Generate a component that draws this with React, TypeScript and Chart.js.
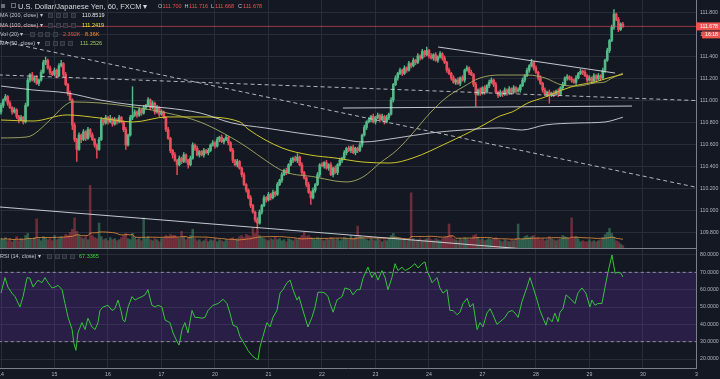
import React, { useEffect, useRef } from "react";
import { Chart, registerables } from "chart.js";

Chart.register(...registerables);

// ---------------- data ----------------
const dayTicks = [0, 24, 48, 72, 96, 120, 144, 168, 192, 216, 240, 264, 288, 312];
const dayLabels = ["14", "15", "16", "17", "20", "21", "22", "23", "24", "27", "28", "29", "30", "3"];
const priceTicks = [109.8, 110.0, 110.2, 110.4, 110.6, 110.8, 111.0, 111.2, 111.4, 111.6, 111.8];
const rsiTicks = [20, 30, 40, 50, 60, 70, 80];
const rsiBands = [70, 30];

const firstOpen = 110.9;
const closes = [
  110.96, 111.01, 111.04, 110.98, 110.94, 110.90, 110.92, 110.86, 110.83, 110.85,
  110.81, 110.96, 111.19, 111.24, 111.19, 111.21, 111.16, 111.19, 111.26, 111.35,
  111.37, 111.30, 111.26, 111.24, 111.28, 111.23, 111.32, 111.34, 111.24, 111.15,
  111.07, 111.01, 110.78, 110.65, 110.56, 110.69, 110.65, 110.72, 110.66, 110.74,
  110.69, 110.65, 110.60, 110.56, 110.65, 110.83, 110.80, 110.85, 110.81, 110.84,
  110.79, 110.83, 110.81, 110.85, 110.81, 110.74, 110.60, 110.69, 110.85, 110.87,
  110.90, 110.87, 110.92, 110.89, 110.94, 110.96, 111.01, 110.94, 110.98, 110.90,
  110.94, 110.88, 110.90, 110.85, 110.74, 110.66, 110.55, 110.51, 110.46, 110.42,
  110.48, 110.45, 110.51, 110.46, 110.42, 110.48, 110.60, 110.57, 110.51, 110.54,
  110.51, 110.55, 110.53, 110.55, 110.60, 110.62, 110.59, 110.65, 110.67, 110.63,
  110.65, 110.67, 110.62, 110.55, 110.46, 110.42, 110.45, 110.39, 110.33, 110.24,
  110.19, 110.12, 110.05, 109.99, 109.92, 109.89, 109.99, 110.05, 110.12, 110.10,
  110.15, 110.12, 110.17, 110.15, 110.24, 110.28, 110.33, 110.37, 110.35, 110.42,
  110.46, 110.48, 110.46, 110.49, 110.42, 110.35, 110.30, 110.24, 110.17, 110.12,
  110.19, 110.24, 110.33, 110.42, 110.41, 110.44, 110.39, 110.42, 110.33, 110.39,
  110.35, 110.42, 110.46, 110.48, 110.53, 110.57, 110.55, 110.58, 110.53, 110.57,
  110.55, 110.60, 110.69, 110.76, 110.81, 110.83, 110.86, 110.81, 110.85, 110.87,
  110.83, 110.86, 110.81, 110.85, 110.88, 111.01, 111.15, 111.21, 111.25, 111.28,
  111.25, 111.30, 111.28, 111.34, 111.32, 111.37, 111.35, 111.41, 111.39, 111.45,
  111.42, 111.46, 111.41, 111.39, 111.42, 111.37, 111.40, 111.43, 111.39, 111.35,
  111.28, 111.25, 111.21, 111.17, 111.19, 111.16, 111.21, 111.19, 111.28, 111.30,
  111.26, 111.24, 111.15, 111.06, 111.10, 111.07, 111.12, 111.08, 111.14, 111.17,
  111.19, 111.15, 111.08, 111.05, 111.08, 111.06, 111.10, 111.07, 111.11, 111.08,
  111.12, 111.09, 111.10, 111.14, 111.19, 111.23, 111.28, 111.32, 111.35, 111.30,
  111.26, 111.21, 111.16, 111.10, 111.06, 111.08, 111.05, 111.07, 111.06, 111.09,
  111.06, 111.12, 111.15, 111.21, 111.22, 111.20, 111.19, 111.17, 111.21, 111.25,
  111.27, 111.26, 111.23, 111.19, 111.21, 111.18, 111.23, 111.20, 111.23, 111.21,
  111.28, 111.37, 111.46, 111.55, 111.67, 111.79, 111.74, 111.65, 111.70, 111.678,
];
// wick lengths in pips (0.01)
const wickUp = [
  2, 1, 2, 1, 2, 1, 2, 1, 1, 2, 1, 2, 2, 1, 2, 1, 2, 1, 2, 2,
  3, 1, 2, 1, 2, 1, 2, 3, 1, 2, 1, 2, 1, 2, 1, 2, 1, 2, 1, 2,
  1, 2, 1, 1, 2, 2, 1, 2, 1, 3, 1, 2, 1, 2, 1, 1, 2, 1, 2, 26,
  2, 1, 2, 1, 2, 1, 2, 1, 2, 1, 2, 1, 2, 1, 1, 2, 1, 1, 2, 1,
  2, 1, 2, 1, 1, 2, 2, 1, 2, 1, 1, 2, 1, 2, 1, 2, 1, 2, 1, 2,
  1, 2, 1, 1, 2, 1, 2, 1, 1, 2, 1, 1, 2, 1, 1, 2, 2, 1, 2, 1,
  2, 1, 2, 1, 2, 1, 2, 1, 2, 1, 2, 1, 2, 3, 1, 2, 1, 1, 2, 1,
  2, 1, 2, 1, 2, 1, 2, 1, 2, 1, 2, 1, 2, 1, 2, 1, 2, 1, 2, 1,
  1, 2, 1, 2, 1, 2, 1, 2, 1, 2, 1, 2, 1, 2, 1, 2, 1, 2, 1, 2,
  1, 2, 1, 2, 1, 2, 1, 2, 1, 2, 1, 3, 1, 2, 1, 2, 1, 2, 1, 2,
  1, 2, 1, 2, 1, 2, 1, 2, 1, 2, 1, 2, 1, 2, 1, 2, 1, 2, 1, 2,
  2, 1, 2, 1, 2, 1, 2, 1, 2, 1, 2, 1, 2, 1, 2, 1, 2, 1, 3, 1,
  2, 1, 2, 1, 2, 1, 2, 1, 2, 1, 2, 1, 2, 1, 2, 1, 2, 1, 2, 1,
  2, 1, 2, 1, 2, 1, 2, 1, 2, 1, 2, 1, 2, 1, 2, 4, 1, 2, 1, 1.6,
];
const wickDown = [
  2, 2, 1, 2, 1, 2, 1, 2, 3, 1, 2, 1, 1, 2, 1, 2, 1, 2, 1, 1,
  2, 1, 2, 1, 1, 2, 1, 1, 2, 1, 2, 1, 4, 2, 11, 1, 3, 1, 2, 1,
  2, 1, 2, 8, 1, 1, 2, 1, 2, 1, 2, 1, 2, 1, 1, 2, 4, 1, 1, 2,
  1, 2, 1, 2, 1, 2, 1, 2, 1, 2, 1, 2, 1, 1, 2, 1, 2, 3, 1, 9,
  1, 2, 1, 2, 3, 1, 1, 2, 1, 2, 1, 2, 1, 2, 1, 1, 2, 1, 2, 1,
  2, 1, 2, 1, 2, 1, 2, 1, 2, 1, 2, 1, 2, 1, 2, 5, 1, 2, 1, 2,
  1, 2, 1, 2, 1, 1, 2, 1, 2, 1, 1, 2, 1, 2, 1, 2, 1, 2, 1, 6,
  1, 2, 1, 2, 1, 2, 1, 2, 1, 2, 1, 2, 1, 2, 1, 2, 1, 2, 1, 2,
  2, 1, 2, 1, 2, 1, 2, 1, 2, 1, 2, 1, 2, 1, 2, 1, 2, 1, 2, 1,
  2, 1, 2, 1, 2, 1, 2, 1, 2, 1, 2, 1, 2, 1, 2, 1, 2, 1, 2, 1,
  2, 1, 2, 1, 2, 1, 2, 1, 2, 1, 2, 1, 2, 11, 1, 2, 1, 2, 1, 2,
  1, 2, 1, 2, 1, 2, 1, 2, 1, 2, 1, 2, 1, 2, 1, 2, 1, 2, 1, 2,
  1, 2, 1, 2, 1, 2, 7, 1, 2, 1, 2, 1, 2, 1, 2, 1, 2, 1, 2, 1,
  1, 2, 1, 2, 1, 2, 1, 2, 1, 2, 1, 2, 1, 2, 1, 2, 1, 2, 1, 1,
];
// volume in thousands
const volumes = [
  9, 8, 10, 7, 9, 6, 8, 11, 7, 9,
  8, 12, 14, 9, 8, 10, 28, 9, 7, 11,
  10, 8, 9, 7, 12, 8, 9, 11, 10, 13,
  12, 15, 18, 29, 16, 12, 10, 9, 11, 8,
  60, 12, 10, 9, 24, 11, 8, 9, 7, 10,
  8, 9, 7, 8, 10, 12, 14, 9, 8, 14,
  10, 8, 9, 7, 29, 9, 11, 8, 7, 9,
  8, 6, 9, 10, 12, 11, 13, 12, 12, 10,
  9, 16, 11, 8, 10, 12, 18, 9, 7, 8,
  6, 7, 9, 6, 8, 7, 9, 6, 8, 7,
  6, 8, 7, 9, 10, 8, 9, 11, 12, 10,
  13, 12, 11, 19, 14, 18, 12, 10, 9, 8,
  7, 9, 8, 10, 8, 9, 7, 8, 6, 9,
  8, 7, 9, 8, 10, 12, 15, 11, 12, 10,
  9, 8, 10, 9, 8, 7, 9, 8, 10, 9,
  8, 9, 7, 8, 10, 9, 8, 12, 9, 11,
  21, 12, 10, 9, 8, 7, 9, 8, 7, 9,
  8, 6, 8, 7, 9, 12, 14, 11, 10, 9,
  8, 9, 7, 8, 53, 9, 7, 8, 9, 7,
  8, 9, 10, 8, 7, 9, 8, 7, 9, 10,
  11, 23, 12, 9, 8, 7, 9, 8, 10, 9,
  8, 9, 12, 13, 10, 8, 9, 7, 8, 9,
  8, 9, 10, 8, 7, 6, 8, 7, 6, 8,
  7, 9, 23, 8, 9, 11, 12, 10, 11, 12,
  9, 10, 8, 9, 7, 8, 11, 9, 8, 7,
  8, 9, 12, 11, 10, 9, 29, 10, 11, 9,
  6, 7, 6, 6, 8, 6, 7, 6, 7, 8,
  10, 13, 15, 19, 14, 10, 7, 6, 3.8, 2.392,
];

// moving averages (bar position, value)
const ma200Bars = [0, 14.4, 29.6, 44.4, 59.2, 74.5, 89.3, 103.6, 118.4, 133.2, 149.8, 162.4, 177.7, 192.5, 207.3, 223.9, 233.7, 244.1, 258.9, 271.0, 279];
const ma200Vals = [111.136, 111.1, 111.073, 111.009, 110.964, 110.936, 110.891, 110.8, 110.755, 110.709, 110.664, 110.627, 110.664, 110.709, 110.736, 110.755, 110.736, 110.782, 110.8, 110.809, 110.8519];
const ma100Bars = [0, 14.4, 29.6, 44.4, 59.2, 74.5, 89.3, 107.2, 110.8, 126.1, 138.6, 149.8, 162.4, 174.5, 184.8, 200.1, 214.9, 223.9, 229.3, 236.4, 244.1, 251.7, 258.9, 266.5, 272.3, 279];
const ma100Vals = [110.827, 110.818, 110.873, 110.845, 110.809, 110.855, 110.855, 110.809, 110.745, 110.573, 110.509, 110.482, 110.445, 110.436, 110.482, 110.618, 110.764, 110.864, 110.9, 110.982, 111.036, 111.1, 111.145, 111.173, 111.209, 111.2419];
const ma50Bars = [0, 11.7, 22, 27.8, 31.9, 44.4, 59.2, 74.5, 89.3, 103.6, 110.8, 118.4, 127.4, 140.9, 149.8, 155.2, 162.4, 170.0, 177.7, 184.8, 192.5, 200.1, 207.3, 214.9, 223.9, 236.4, 244.1, 251.7, 258.9, 266.5, 271.0, 274.1, 279];
const ma50Vals = [110.664, 110.673, 110.827, 110.945, 110.991, 110.982, 110.945, 110.891, 110.809, 110.664, 110.573, 110.464, 110.355, 110.309, 110.273, 110.264, 110.309, 110.436, 110.555, 110.709, 110.891, 111.036, 111.127, 111.209, 111.236, 111.236, 111.209, 111.145, 111.136, 111.164, 111.173, 111.209, 111.2526];

// RSI(14)
const rsiBars = [
  0, 1.8, 3.1, 4.9, 6.3, 8.5, 9.9, 11.7, 13.0, 14.4,
  16.6, 18.4, 19.7, 21.1, 22.9, 24.2, 25.6, 27.4, 28.7, 30.1,
  31.9, 32.7, 33.6, 34.5, 36.3, 37.7, 39.0, 40.8, 42.2, 43.5,
  44.4, 45.8, 48.0, 49.8, 51.1, 52.5, 53.8, 54.7, 55.6, 57.0,
  58.8, 60.1, 61.5, 63.3, 64.6, 65.9, 67.7, 69.1, 70.4, 72.2,
  73.6, 75.8, 77.2, 79.0, 79.9, 81.2, 82.5, 83.9, 85.7, 87.0,
  88.4, 90.2, 91.5, 92.9, 95.1, 97.4, 99.6, 101.4, 102.7, 104.1,
  105.9, 107.2, 109.5, 110.8, 112.6, 114.0, 115.3, 116.2, 117.5, 119.3,
  120.7, 122.0, 123.8, 125.2, 126.5, 128.3, 129.7, 131.0, 132.8, 133.7,
  135.0, 136.4, 137.7, 139.5, 140.9, 142.2, 144.0, 145.4, 146.7, 147.6,
  149.0, 150.7, 153.0, 154.3, 156.6, 157.9, 159.7, 161.1, 162.4, 164.6,
  166.4, 167.8, 169.1, 170.9, 172.3, 173.6, 175.4, 176.8, 178.1, 179.9,
  181.2, 183.5, 185.7, 187.1, 188.9, 190.2, 191.1, 192.5, 193.4, 195.6,
  196.9, 198.3, 200.1, 201.4, 202.8, 204.6, 205.9, 207.3, 209.1, 210.4,
  211.8, 213.6, 214.9, 216.2, 218.0, 219.4, 220.7, 222.5, 224.8, 226.1,
  227.5, 229.3, 230.6, 232.0, 233.7, 236.0, 237.3, 238.7, 240.5, 241.8,
  243.2, 244.5, 245.4, 247.2, 248.5, 249.9, 250.8, 252.1, 253.5, 255.3,
  257.5, 258.8, 260.6, 262.4, 264.2, 265.1, 266.5, 267.8, 269.6, 271.0,
  272.3, 274.1, 275.5, 276.8, 278.1, 279.0,
];
const rsiValues = [
  58, 67, 61.5, 58, 56, 50, 56, 67, 66.5, 61.5,
  65.5, 64, 67, 64, 61, 61.5, 62.5, 60, 52, 44,
  37, 29, 25, 35, 41, 37, 43.5, 38.5, 37, 41,
  48, 50, 51, 48, 49, 54, 48, 42.5, 41.5, 50,
  56, 54, 55, 56, 57, 60, 51, 50, 51, 50,
  42.5, 41, 35, 30, 28, 37, 41, 35, 48, 44,
  44, 43.5, 44, 48, 51, 52, 54.5, 52, 46.5, 39.5,
  38.5, 33, 28, 25, 22, 20.5, 19.5, 27, 33, 41,
  38.5, 44, 48, 58, 60, 64, 65.5, 60, 54, 56,
  50, 44, 38.5, 44, 50, 58.5, 58.5, 58, 56, 52,
  47, 54, 56, 61, 60, 57, 60, 60, 66.5, 73,
  67, 70, 65.5, 71, 67, 60, 67, 75, 71, 73,
  71, 72.5, 75, 72.5, 75, 76, 71, 67, 64, 67,
  61, 58, 60, 48, 48, 45.5, 47, 52, 55, 50,
  52, 37, 41, 38.5, 46.5, 49, 45.5, 40, 42.5, 44,
  47, 48, 46.5, 44, 53, 61.5, 67, 61.5, 54, 48,
  43.5, 39.5, 44, 41.5, 46.5, 41.5, 47, 49, 57, 55,
  52, 58, 61, 58, 50, 54, 51, 52, 52, 61.5,
  70, 80, 69.5, 70, 69.5, 67.3365,
];

// drawn trend lines (bar position / price at both ends)
const trendStartBar = [-1, -1, -1, 196.1, 153.4];
const trendStartPrice = [111.548, 111.237, 110.037, 111.491, 110.936];
const trendEndBar = [313, 313, 250, 275.5, 283.1];
const trendEndPrice = [110.211, 111.003, 109.63, 111.254, 110.954];
const countdownText = "16:18";

// ---------------- styles ----------------
const BG = "#141822";
const GRID = "#282d39";
const AXIS = "#7b7f8a";
const TXT = "#b2b5be";
const FONT = '"Liberation Sans", Arial, sans-serif';
const UP = "#53b987";
const DOWN = "#eb4d5c";
const X_MIN = -0.45;
const X_MAX = 311.8;
const trendDash = [[4, 3], [4, 3], [], [], []];

function xAxis(showLabels: boolean) {
  return {
    type: "linear",
    min: X_MIN,
    max: X_MAX,
    offset: false,
    afterBuildTicks: (s: any) => {
      s.ticks = dayTicks.map((v) => ({ value: v }));
    },
    afterFit: (s: any) => {
      s.paddingLeft = 0;
      s.paddingRight = 0;
      s.height = showLabels ? 11 : 0;
    },
    grid: { color: GRID, drawTicks: false, offset: false },
    border: { display: true, color: AXIS },
    ticks: {
      display: showLabels,
      autoSkip: false,
      maxRotation: 0,
      padding: 3,
      color: TXT,
      font: { size: 5.2, family: FONT },
      callback: (v: any) => {
        const k = dayTicks.indexOf(Number(v));
        return k >= 0 ? dayLabels[k] : "";
      },
    },
  };
}

function yAxis(min: number, max: number, ticks: number[], dec: number) {
  return {
    type: "linear",
    position: "right",
    min,
    max,
    afterBuildTicks: (s: any) => {
      s.ticks = ticks.map((v) => ({ value: v }));
    },
    afterFit: (s: any) => {
      s.width = 24;
      s.paddingTop = 0;
      s.paddingBottom = 0;
    },
    grid: { color: GRID, drawTicks: false },
    border: { display: true, color: AXIS },
    ticks: {
      color: TXT,
      padding: 4,
      font: { size: 5.2, family: FONT },
      callback: (v: any) => Number(v).toFixed(dec),
    },
  };
}

function lineSet(bars: number[], vals: number[], color: string, order: number, extra: any = {}) {
  return {
    type: "line",
    data: bars.map((b, i) => ({ x: b, y: vals[i] })),
    borderColor: color,
    borderWidth: 1,
    pointRadius: 0,
    fill: false,
    order,
    ...extra,
  };
}

export default function App() {
  const c1 = useRef<HTMLCanvasElement>(null);
  const c2 = useRef<HTMLCanvasElement>(null);

  const opens = closes.map((c, i) => (i === 0 ? firstOpen : closes[i - 1]));
  const highs = closes.map((c, i) => Math.max(opens[i], c) + wickUp[i] * 0.01);
  const lows = closes.map((c, i) => Math.min(opens[i], c) - wickDown[i] * 0.01);
  const n = closes.length;
  const lastClose = closes[n - 1];
  const volMA = volumes.map((_, i) => {
    const s = Math.max(0, i - 19);
    const w = volumes.slice(s, i + 1);
    return w.reduce((a, b) => a + b, 0) / w.length;
  });

  useEffect(() => {
    const isUp = closes.map((c, i) => c >= opens[i]);
    const candleColors = isUp.map((u) => (u ? UP : DOWN));
    const volColors = isUp.map((u) => (u ? "rgba(83,185,135,0.4)" : "rgba(235,77,92,0.4)"));

    const priceTag = {
      id: "priceTag",
      afterDraw(chart: any) {
        const { ctx } = chart;
        const ys = chart.scales.y;
        const py = ys.getPixelForValue(lastClose);
        const x0 = ys.left;
        ctx.save();
        ctx.fillStyle = "#ef5350";
        ctx.fillRect(x0, py - 4, 720 - x0, 8);
        ctx.fillRect(x0 + 6, py + 5, 720 - x0 - 6, 7);
        ctx.fillStyle = "#ffffff";
        ctx.font = `5.2px ${FONT}`;
        ctx.textBaseline = "middle";
        ctx.fillText(lastClose.toFixed(3), x0 + 4, py + 0.3);
        ctx.fillText(countdownText, x0 + 9, py + 8.6);
        ctx.restore();
      },
    };

    const trendSets = trendStartBar.map((b, k) =>
      lineSet([b, trendEndBar[k]], [trendStartPrice[k], trendEndPrice[k]], k < 2 ? "rgba(205,208,216,0.85)" : "rgba(215,218,225,0.9)", 3, {
        borderDash: trendDash[k],
      })
    );

    const cfg1: any = {
      type: "bar",
      data: {
        datasets: [
          {
            type: "bar",
            yAxisID: "yv",
            data: volumes.map((v, i) => ({ x: i, y: v })),
            backgroundColor: volColors,
            barThickness: 1.9,
            grouped: false,
            order: 10,
          },
          lineSet(volMA.map((_, i) => i), volMA, "rgba(240,145,58,0.8)", 9, { yAxisID: "yv" }),
          {
            type: "bar",
            yAxisID: "y",
            data: closes.map((c, i) => ({ x: i, y: [lows[i], highs[i]] })),
            backgroundColor: candleColors,
            barThickness: 0.8,
            grouped: false,
            order: 6,
          },
          {
            type: "bar",
            yAxisID: "y",
            data: closes.map((c, i) => ({ x: i, y: [opens[i], c] })),
            backgroundColor: candleColors,
            barThickness: 2,
            minBarLength: 1,
            grouped: false,
            order: 5,
          },
          ...trendSets,
          lineSet(ma200Bars, ma200Vals, "rgba(220,222,228,0.85)", 2, { cubicInterpolationMode: "monotone" }),
          lineSet(ma100Bars, ma100Vals, "#cfc62c", 2, { cubicInterpolationMode: "monotone" }),
          lineSet(ma50Bars, ma50Vals, "rgba(165,172,98,0.9)", 2, { cubicInterpolationMode: "monotone" }),
          lineSet([-1, 313], [lastClose, lastClose], "rgba(235,77,92,0.6)", 1),
        ],
      },
      options: {
        animation: false,
        responsive: false,
        devicePixelRatio: 1,
        events: [],
        layout: { padding: { left: 0, right: 0, top: 0, bottom: 1 } },
        plugins: { legend: { display: false }, tooltip: { enabled: false } },
        scales: {
          x: xAxis(false),
          y: yAxis(109.6635, 111.918, priceTicks, 3),
          yv: { type: "linear", display: false, min: 0, max: 238 },
        },
      },
      plugins: [priceTag],
    };

    const cfg2: any = {
      type: "line",
      data: {
        datasets: [
          lineSet([-1, 313], [rsiBands[0], rsiBands[0]], "rgba(175,178,190,0.75)", 3, { borderDash: [3, 3] }),
          lineSet([-1, 313], [rsiBands[1], rsiBands[1]], "rgba(175,178,190,0.75)", 3, {
            borderDash: [3, 3],
            fill: "-1",
            backgroundColor: "rgba(110,55,190,0.24)",
          }),
          lineSet(rsiBars, rsiValues, "#36c43a", 1),
        ],
      },
      options: {
        animation: false,
        responsive: false,
        devicePixelRatio: 1,
        events: [],
        layout: { padding: 0 },
        plugins: { legend: { display: false }, tooltip: { enabled: false } },
        scales: {
          x: xAxis(true),
          y: yAxis(14.81, 83.46, rsiTicks, 4),
        },
      },
    };

    const ch1 = new Chart(c1.current as HTMLCanvasElement, cfg1);
    const ch2 = new Chart(c2.current as HTMLCanvasElement, cfg2);
    return () => {
      ch1.destroy();
      ch2.destroy();
    };
  }, []);

  const T = (p: { x: number; y: number; s: number; c: string; children: any }) => (
    <span
      style={{
        position: "absolute",
        left: p.x,
        top: p.y - p.s * 0.6,
        fontSize: p.s,
        lineHeight: `${p.s * 1.2}px`,
        color: p.c,
        whiteSpace: "nowrap",
      }}
    >
      {p.children}
    </span>
  );
  const Ico = (p: { x: number; y: number }) => (
    <div
      style={{
        position: "absolute",
        left: p.x,
        top: p.y - 2.5,
        width: 5,
        height: 5,
        background: "#252934",
        border: "1px solid #3b3f4b",
        boxSizing: "border-box",
      }}
    />
  );
  const icons = (x0: number, y: number, gap: number) => [0, 1, 2, 3].map((k) => <Ico key={k} x={x0 + k * gap} y={y} />);

  const lab = "#c3c6ce";
  const red = "#ef5350";
  const lastOpen = opens[n - 1];

  return (
    <div
      style={{
        position: "fixed",
        left: 0,
        top: 0,
        width: 720,
        height: 379,
        background: BG,
        overflow: "hidden",
        fontFamily: FONT,
      }}
    >
      <canvas ref={c1} width={720} height={249} style={{ position: "absolute", left: 0, top: 0, width: 720, height: 249 }} />
      <canvas ref={c2} width={720} height={130} style={{ position: "absolute", left: 0, top: 249, width: 720, height: 130 }} />

      <div style={{ position: "absolute", left: 1, top: 4, width: 4, height: 4, background: "#6a6e79" }} />
      <div style={{ position: "absolute", left: 11, top: 3, width: 5, height: 5, border: "1px solid #6a6e79", boxSizing: "border-box" }} />
      <T x={18} y={6} s={7.5} c="#d6d8de">U.S. Dollar/Japanese Yen, 60, FXCM ▾</T>
      <T x={158} y={6.3} s={5.5} c={lab}>O</T>
      <T x={162.5} y={6.3} s={5.5} c={red}>{lastOpen.toFixed(3)}</T>
      <T x={184.5} y={6.3} s={5.5} c={lab}>H</T>
      <T x={189} y={6.3} s={5.5} c={red}>{highs[n - 1].toFixed(3)}</T>
      <T x={211} y={6.3} s={5.5} c={lab}>L</T>
      <T x={215} y={6.3} s={5.5} c={red}>{lows[n - 1].toFixed(3)}</T>
      <T x={238} y={6.3} s={5.5} c={lab}>C</T>
      <T x={243} y={6.3} s={5.5} c={red}>{lastClose.toFixed(3)}</T>

      <T x={0} y={15.7} s={5.5} c={lab}>MA (200, close) ▾</T>
      {icons(48, 15.7, 7.5)}
      <T x={82} y={15.7} s={5.5} c="#e4e6ea">{ma200Vals[ma200Vals.length - 1].toFixed(4)}</T>

      <T x={0} y={25} s={5.5} c={lab}>MA (100, close) ▾</T>
      {icons(48, 25, 7.5)}
      <T x={82} y={25} s={5.5} c="#eaea3a">{ma100Vals[ma100Vals.length - 1].toFixed(4)}</T>

      <T x={0} y={34} s={5.5} c={lab}>Vol (20) ▾</T>
      {icons(30, 34, 7.5)}
      <T x={63} y={34} s={5.5} c={red}>{volumes[n - 1].toFixed(3)}K</T>
      <T x={85} y={34} s={5.5} c="#f0913a">{volMA[n - 1].toFixed(2)}K</T>

      <T x={0} y={43} s={5.5} c={lab}>MA (50, close) ▾</T>
      {icons(45, 43, 7.5)}
      <T x={80} y={43} s={5.5} c="#9ccc65">{ma50Vals[ma50Vals.length - 1].toFixed(4)}</T>

      <T x={0} y={256} s={5.5} c={lab}>RSI (14, close) ▾</T>
      {icons(47, 256, 7.5)}
      <T x={79} y={256} s={5.5} c="#3fd23f">{rsiValues[rsiValues.length - 1].toFixed(4)}</T>
    </div>
  );
}
